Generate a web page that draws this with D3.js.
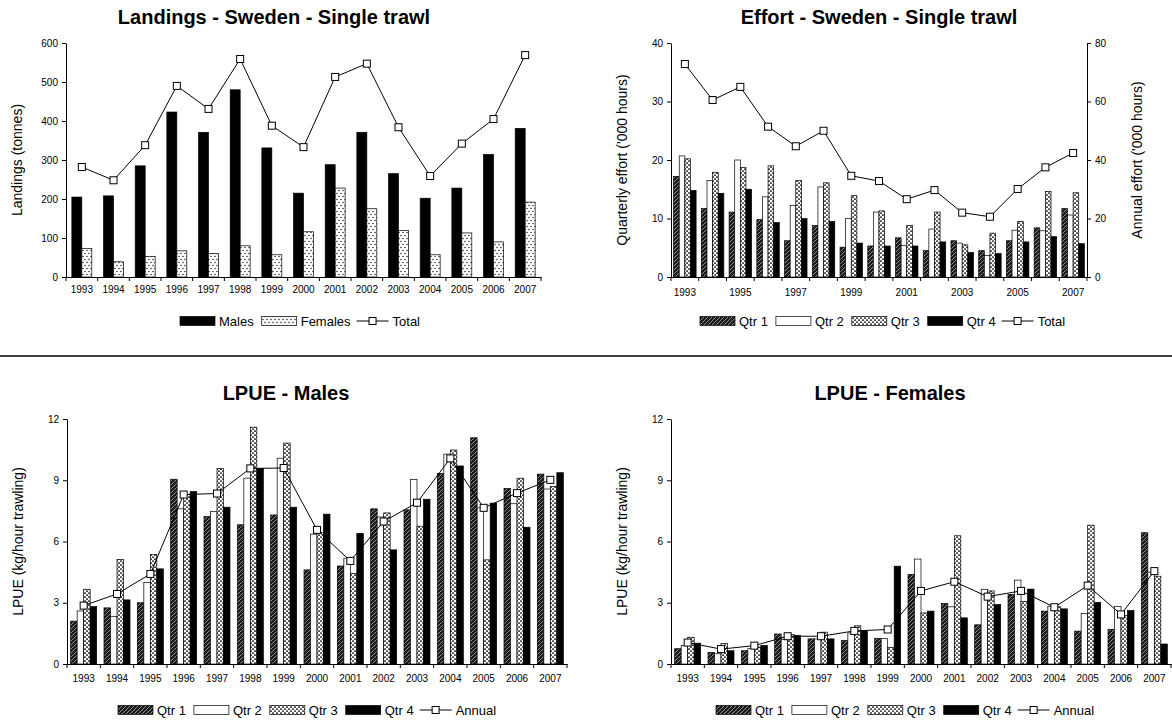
<!DOCTYPE html>
<html>
<head>
<meta charset="utf-8">
<script src="https://cdnjs.cloudflare.com/ajax/libs/d3/7.8.5/d3.min.js"></script>
<style>
body { margin: 0; background: #fff; }
svg text { font-family: "Liberation Sans", Arial, sans-serif; fill: #000; }
</style>
</head>
<body>
<div id="chart"></div>
<script>
var years = ['1993', '1994', '1995', '1996', '1997', '1998', '1999', '2000',
             '2001', '2002', '2003', '2004', '2005', '2006', '2007'];

// landings (tonnes)
var landMales   = [205, 208, 285, 423, 371, 480, 331, 215, 288, 371, 265, 202, 228, 314, 381];
var landFemales = [73, 39, 53, 67, 60, 80, 57, 116, 228, 175, 119, 57, 113, 90, 192];
var landTotal   = [282, 248, 338, 490, 431, 559, 388, 333, 513, 547, 384, 259, 342, 405, 569];

// effort ('000 hours)
var effQ1    = [17.2, 11.7, 11.1, 9.8, 6.2, 8.8, 5.1, 5.3, 6.7, 4.5, 6.2, 4.5, 6.2, 8.4, 11.7];
var effQ2    = [20.7, 16.5, 20.0, 13.7, 12.2, 15.4, 10.0, 11.1, 5.4, 8.2, 5.8, 3.7, 8.0, 7.9, 10.6];
var effQ3    = [20.2, 17.9, 18.7, 19.0, 16.5, 16.1, 13.9, 11.3, 8.8, 11.1, 5.5, 7.5, 9.5, 14.6, 14.4];
var effQ4    = [14.8, 14.3, 15.0, 9.3, 10.0, 9.5, 5.8, 5.3, 5.3, 6.0, 4.2, 4.0, 6.0, 6.9, 5.7];
var effTotal = [72.8, 60.5, 65.0, 51.4, 44.7, 50.0, 34.6, 32.8, 26.6, 29.7, 22.0, 20.6, 30.1, 37.5, 42.4];

// LPUE males (kg/hour)
var lpueMQ1     = [2.1, 2.75, 3.0, 9.05, 7.22, 6.82, 7.3, 4.61, 4.8, 7.6, 7.55, 9.33, 11.08, 8.6, 9.3];
var lpueMQ2     = [2.6, 2.32, 4.0, 7.6, 7.47, 9.1, 10.08, 6.36, 5.18, 7.2, 9.04, 10.28, 7.65, 7.85, 8.57];
var lpueMQ3     = [3.66, 5.12, 5.37, 8.3, 9.57, 11.6, 10.82, 6.45, 4.44, 7.4, 6.75, 10.48, 5.1, 9.1, 8.7];
var lpueMQ4     = [2.81, 3.14, 4.66, 8.45, 7.68, 9.58, 7.68, 7.34, 6.4, 5.59, 8.07, 9.7, 7.88, 6.7, 9.37];
var lpueMAnnual = [2.86, 3.43, 4.41, 8.3, 8.35, 9.58, 9.6, 6.57, 5.05, 6.98, 7.9, 10.07, 7.65, 8.37, 9.02];

// LPUE females (kg/hour)
var lpueFQ1     = [0.75, 0.57, 0.65, 1.47, 1.23, 1.15, 1.26, 4.39, 2.96, 1.92, 3.41, 2.59, 1.61, 1.7, 6.43];
var lpueFQ2     = [0.91, 0.5, 0.75, 1.2, 1.23, 1.52, 1.24, 5.14, 2.8, 3.66, 4.11, 2.83, 2.47, 2.82, 4.5];
var lpueFQ3     = [1.31, 1.0, 0.83, 1.44, 1.56, 1.87, 0.81, 2.5, 6.28, 3.58, 3.07, 2.8, 6.8, 2.38, 4.3];
var lpueFQ4     = [1.02, 0.65, 0.91, 1.4, 1.23, 1.63, 4.79, 2.59, 2.26, 2.91, 3.67, 2.7, 3.02, 2.62, 0.98];
var lpueFAnnual = [1.05, 0.73, 0.9, 1.36, 1.36, 1.62, 1.69, 3.58, 4.03, 3.3, 3.58, 2.78, 3.84, 2.43, 4.55];

var svg = d3.select('#chart').append('svg')
    .attr('width', 1172)
    .attr('height', 723);

var defs = svg.append('defs');

// females: white with dots
var pat = defs.append('pattern').attr('id', 'dots')
    .attr('patternUnits', 'userSpaceOnUse').attr('width', 4).attr('height', 6);
pat.append('rect').attr('width', 4).attr('height', 6).attr('fill', '#fff');
pat.append('circle').attr('cx', 1).attr('cy', 1.5).attr('r', 0.65).attr('fill', '#000');
pat.append('circle').attr('cx', 3).attr('cy', 4.5).attr('r', 0.65).attr('fill', '#000');

// qtr 1: dark with light diagonal strokes
pat = defs.append('pattern').attr('id', 'hatch')
    .attr('patternUnits', 'userSpaceOnUse').attr('width', 4).attr('height', 4);
pat.append('rect').attr('width', 4).attr('height', 4).attr('fill', '#1a1a1a');
pat.append('path').attr('d', 'M0,4 L4,0 M-1,1 L1,-1 M3,5 L5,3')
    .attr('stroke', '#b0b0b0').attr('stroke-width', 0.8);

// qtr 3: white with staggered dashes
pat = defs.append('pattern').attr('id', 'wave')
    .attr('patternUnits', 'userSpaceOnUse').attr('width', 4).attr('height', 4);
pat.append('rect').attr('width', 4).attr('height', 4).attr('fill', '#fff');
pat.append('rect').attr('x', 0).attr('y', 0.5).attr('width', 2).attr('height', 1.2).attr('fill', '#000');
pat.append('rect').attr('x', 2).attr('y', 2.5).attr('width', 2).attr('height', 1.2).attr('fill', '#000');

var qtrFills = ['url(#hatch)', '#fff', 'url(#wave)', '#000'];
var qtrNames = ['Qtr 1', 'Qtr 2', 'Qtr 3', 'Qtr 4'];

function drawPanel(o) {
    var g = svg.append('g');

    var x = d3.scaleBand().domain(years).range([o.left, o.right]);
    var y = d3.scaleLinear().domain([0, o.ymax]).range([o.bottom, o.top]);
    var y2 = o.ymax2 ? d3.scaleLinear().domain([0, o.ymax2]).range([o.bottom, o.top]) : y;

    var groupW = x.bandwidth() * o.groupFrac;
    var xs = d3.scaleBand().domain(d3.range(o.bars.length)).range([0, groupW]);
    var off = (x.bandwidth() - groupW) / 2;

    // title
    g.append('text')
        .attr('x', o.titleX).attr('y', o.titleY)
        .attr('text-anchor', 'middle')
        .style('font-size', '20px').style('font-weight', 'bold')
        .text(o.title);

    // bars
    o.bars.forEach(function(s, k) {
        g.append('g').selectAll('rect')
            .data(s.values)
            .join('rect')
            .attr('x', function(d, i) { return x(years[i]) + off + xs(k); })
            .attr('y', function(d) { return y(d); })
            .attr('width', xs.bandwidth())
            .attr('height', function(d) { return o.bottom - y(d); })
            .attr('fill', s.fill)
            .attr('stroke', '#000')
            .attr('stroke-width', 0.7);
    });

    // line with square markers
    var cx = function(d, i) { return x(years[i]) + x.bandwidth() / 2; };
    var line = d3.line().x(cx).y(function(d) { return y2(d); });
    g.append('path')
        .datum(o.line.values)
        .attr('d', line)
        .attr('fill', 'none')
        .attr('stroke', '#000')
        .attr('stroke-width', 1);
    g.append('g').selectAll('rect')
        .data(o.line.values)
        .join('rect')
        .attr('x', function(d, i) { return cx(d, i) - 3.5; })
        .attr('y', function(d) { return y2(d) - 3.5; })
        .attr('width', 7).attr('height', 7)
        .attr('fill', '#fff').attr('stroke', '#000').attr('stroke-width', 1);

    // x axis
    var xAxis = d3.axisBottom(x).tickSize(0).tickPadding(o.xpad);
    if (o.xevery) xAxis.tickValues(years.filter(function(d, i) { return i % o.xevery === 0; }));
    var xg = g.append('g').attr('transform', 'translate(0,' + o.bottom + ')').call(xAxis);
    xg.selectAll('text').style('font-size', '10px');
    xg.select('.domain').attr('stroke', '#000');
    xg.selectAll('line.bt')
        .data(years.map(function(d) { return x(d); }).concat([x.range()[1]]))
        .join('line')
        .attr('class', 'bt')
        .attr('x1', function(d) { return d; }).attr('x2', function(d) { return d; })
        .attr('y1', 0).attr('y2', 4)
        .attr('stroke', '#000');

    // y axis
    var yg = g.append('g').attr('transform', 'translate(' + o.left + ',0)')
        .call(d3.axisLeft(y).tickValues(o.yticks).tickSize(4).tickSizeOuter(0).tickPadding(4));
    yg.selectAll('text').style('font-size', '10px');

    if (o.ymax2) {
        var yg2 = g.append('g').attr('transform', 'translate(' + o.right + ',0)')
            .call(d3.axisRight(y2).tickValues(o.yticks2).tickSize(4).tickSizeOuter(0).tickPadding(4));
        yg2.selectAll('text').style('font-size', '10px');
        g.append('text')
            .attr('transform', 'translate(' + o.ylabel2X + ',' + (o.top + o.bottom) / 2 + ') rotate(-90)')
            .attr('text-anchor', 'middle').attr('dy', '0.35em')
            .style('font-size', '14px')
            .text(o.ylabel2);
    }

    g.append('text')
        .attr('transform', 'translate(' + o.ylabelX + ',' + (o.top + o.bottom) / 2 + ') rotate(-90)')
        .attr('text-anchor', 'middle').attr('dy', '0.35em')
        .style('font-size', '14px')
        .text(o.ylabel);

    // legend
    var lg = g.append('g').attr('transform', 'translate(' + o.legendX + ',' + o.legendY + ')');
    var lx = 0;
    o.bars.forEach(function(s) {
        lg.append('rect')
            .attr('x', lx).attr('y', -4.5).attr('width', 35).attr('height', 9)
            .attr('fill', s.fill).attr('stroke', '#000').attr('stroke-width', 0.7);
        lx += 39;
        var t = lg.append('text').attr('x', lx).attr('dy', '0.35em')
            .style('font-size', '13px').text(s.name);
        lx += t.node().getComputedTextLength() + 8;
    });
    lg.append('line').attr('x1', lx - 2).attr('x2', lx + 30).attr('y1', 0).attr('y2', 0)
        .attr('stroke', '#000');
    lg.append('rect').attr('x', lx + 14 - 3.5).attr('y', -3.5).attr('width', 7).attr('height', 7)
        .attr('fill', '#fff').attr('stroke', '#000');
    lg.append('text').attr('x', lx + 34).attr('dy', '0.35em')
        .style('font-size', '13px').text(o.line.name);
}

drawPanel({
    title: 'Landings - Sweden - Single trawl', titleX: 274, titleY: 24,
    left: 66, right: 541, top: 43, bottom: 277,
    ymax: 600, yticks: [0, 100, 200, 300, 400, 500, 600],
    groupFrac: 0.63, xpad: 9,
    bars: [{ values: landMales, fill: '#000', name: 'Males' },
           { values: landFemales, fill: 'url(#dots)', name: 'Females' }],
    line: { values: landTotal, name: 'Total' },
    ylabel: 'Landings (tonnes)', ylabelX: 17,
    legendX: 180, legendY: 321
});

drawPanel({
    title: 'Effort - Sweden - Single trawl', titleX: 879, titleY: 24,
    left: 671, right: 1087, top: 43, bottom: 277,
    ymax: 40, yticks: [0, 10, 20, 30, 40],
    ymax2: 80, yticks2: [0, 20, 40, 60, 80],
    groupFrac: 0.81, xpad: 12, xevery: 2,
    bars: [effQ1, effQ2, effQ3, effQ4].map(function(v, i) {
        return { values: v, fill: qtrFills[i], name: qtrNames[i] };
    }),
    line: { values: effTotal, name: 'Total' },
    ylabel: "Quarterly effort ('000 hours)", ylabelX: 622,
    ylabel2: "Annual effort ('000 hours)", ylabel2X: 1137,
    legendX: 700, legendY: 321
});

drawPanel({
    title: 'LPUE - Males', titleX: 286, titleY: 400,
    left: 67, right: 567, top: 419, bottom: 664,
    ymax: 12, yticks: [0, 3, 6, 9, 12],
    groupFrac: 0.78, xpad: 11,
    bars: [lpueMQ1, lpueMQ2, lpueMQ3, lpueMQ4].map(function(v, i) {
        return { values: v, fill: qtrFills[i], name: qtrNames[i] };
    }),
    line: { values: lpueMAnnual, name: 'Annual' },
    ylabel: 'LPUE (kg/hour trawling)', ylabelX: 18,
    legendX: 118, legendY: 710
});

drawPanel({
    title: 'LPUE - Females', titleX: 890, titleY: 400,
    left: 671, right: 1171, top: 419, bottom: 664,
    ymax: 12, yticks: [0, 3, 6, 9, 12],
    groupFrac: 0.78, xpad: 11,
    bars: [lpueFQ1, lpueFQ2, lpueFQ3, lpueFQ4].map(function(v, i) {
        return { values: v, fill: qtrFills[i], name: qtrNames[i] };
    }),
    line: { values: lpueFAnnual, name: 'Annual' },
    ylabel: 'LPUE (kg/hour trawling)', ylabelX: 622,
    legendX: 716, legendY: 710
});

// separator between the two rows
svg.append('line')
    .attr('x1', 0).attr('x2', 1172).attr('y1', 356).attr('y2', 356)
    .attr('stroke', '#000').attr('stroke-width', 1.5);
</script>
</body>
</html>
